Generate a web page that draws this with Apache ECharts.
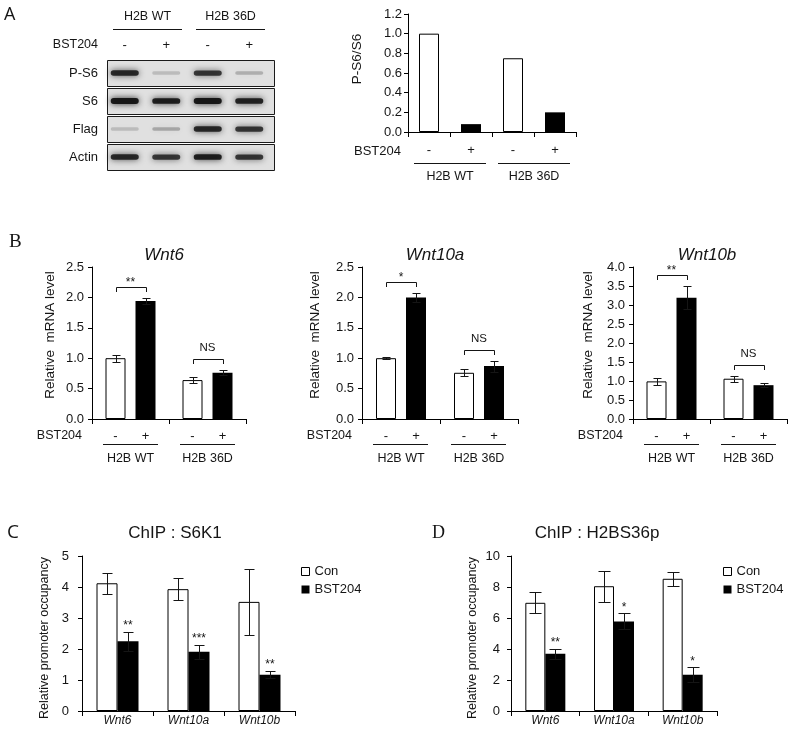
<!DOCTYPE html>
<html><head><meta charset="utf-8">
<script src="https://cdn.jsdelivr.net/npm/echarts@6/dist/echarts.min.js"></script>
<style>html,body{margin:0;padding:0;background:#fff}#c{width:789px;height:733px}</style>
</head><body><div id="c"></div>
<script>
// ---------------- DATA ----------------
const blotLanes = ['WT -', 'WT +', '36D -', '36D +'];
const blotRows = ['P-S6', 'S6', 'Flag', 'Actin'];
const bandPS6 = [0.85, 0.10, 0.75, 0.16];
const bandS6 = [0.95, 0.90, 0.95, 0.88];
const bandFlag = [0.10, 0.20, 0.85, 0.75];
const bandActin = [0.85, 0.75, 0.90, 0.75];
const blotGroups = ['H2B WT', 'H2B 36D'];
const treatSigns = ['-', '+', '-', '+'];
const ratioCats = ['WT -', 'WT +', '36D -', '36D +'];
const ratioValues = [1.0, 0.08, 0.75, 0.20];

const groupCats = ['H2B WT', 'H2B 36D'];
const wnt6Ctrl = [1.00, 0.64], wnt6CtrlErr = [0.06, 0.055];
const wnt6Bst = [1.94, 0.76], wnt6BstErr = [0.05, 0.04];
const wnt6Sig = ['**', 'NS'];
const wnt10aCtrl = [1.00, 0.76], wnt10aCtrlErr = [0.012, 0.06];
const wnt10aBst = [2.00, 0.87], wnt10aBstErr = [0.07, 0.09];
const wnt10aSig = ['*', 'NS'];
const wnt10bCtrl = [0.99, 1.06], wnt10bCtrlErr = [0.09, 0.08];
const wnt10bBst = [3.19, 0.89], wnt10bBstErr = [0.30, 0.05];
const wnt10bSig = ['**', 'NS'];

const geneCats = ['Wnt6', 'Wnt10a', 'Wnt10b'];
const s6k1Con = [4.12, 3.93, 3.52], s6k1ConErr = [0.34, 0.36, 1.07];
const s6k1Bst = [2.25, 1.91, 1.17], s6k1BstErr = [0.30, 0.22, 0.12];
const s6k1Sig = ['**', '***', '**'];
const h2bCon = [6.98, 8.05, 8.53], h2bConErr = [0.68, 0.99, 0.45];
const h2bBst = [3.69, 5.78, 2.34], h2bBstErr = [0.34, 0.52, 0.48];
const h2bSig = ['**', '*', '*'];

// ---------------- HELPERS ----------------
const FONT = '"Liberation Sans", Arial, sans-serif';
const SERIF = '"Liberation Serif", "Times New Roman", serif';
const INK = '#151515';
const R = v => Math.round(v) + 0.5;

function T(x, y, text, size, opt) {
  opt = opt || {};
  return {type: 'text', x: x, y: y, silent: true, rotation: opt.rot || 0,
    style: {text: text, fill: INK, fontSize: size, fontFamily: opt.family || FONT,
      fontStyle: opt.italic ? 'italic' : 'normal', fontWeight: 'normal',
      align: opt.align || 'center', verticalAlign: 'middle'}};
}
function L(x1, y1, x2, y2) {
  return {type: 'line', silent: true, shape: {x1: x1, y1: y1, x2: x2, y2: y2},
    style: {stroke: INK, lineWidth: 1}};
}

const axisLine = {show: true, lineStyle: {color: '#000', width: 1}};
const tick = len => ({show: true, length: len, lineStyle: {color: '#000', width: 1}});

const grids = [
  {left: 104, top: 59, width: 166, height: 112},   // 0 blot
  {left: 408, top: 14, width: 168, height: 118},   // 1 P-S6/S6
  {left: 92, top: 267, width: 154, height: 152},   // 2 Wnt6
  {left: 362, top: 267, width: 156, height: 152},  // 3 Wnt10a
  {left: 633, top: 267, width: 154, height: 152},  // 4 Wnt10b
  {left: 82, top: 556, width: 213, height: 155},   // 5 ChIP S6K1
  {left: 511, top: 556, width: 206, height: 155}   // 6 ChIP H2BS36p
];

function yVal(gi, max, interval, dec, margin) {
  return {gridIndex: gi, type: 'value', min: 0, max: max, interval: interval,
    axisLine: axisLine, axisTick: tick(4), splitLine: {show: false},
    axisLabel: {margin: margin, fontSize: 13, color: INK, fontFamily: FONT,
      formatter: v => dec ? v.toFixed(dec) : String(v)}};
}

const xAxes = [
  {gridIndex: 0, type: 'category', data: blotLanes, show: false},
  {gridIndex: 1, type: 'category', data: ratioCats, axisLine: axisLine, axisTick: tick(5),
    axisLabel: {margin: 12, fontSize: 13, color: INK, fontFamily: FONT,
      formatter: (v, i) => treatSigns[i]}},
  {gridIndex: 2, type: 'category', data: groupCats, axisLine: axisLine, axisTick: tick(5), axisLabel: {show: false}},
  {gridIndex: 3, type: 'category', data: groupCats, axisLine: axisLine, axisTick: tick(5), axisLabel: {show: false}},
  {gridIndex: 4, type: 'category', data: groupCats, axisLine: axisLine, axisTick: tick(5), axisLabel: {show: false}},
  {gridIndex: 5, type: 'category', data: geneCats, axisLine: axisLine, axisTick: tick(5),
    axisLabel: {margin: 4, fontSize: 12, fontStyle: 'italic', color: INK, fontFamily: FONT}},
  {gridIndex: 6, type: 'category', data: geneCats, axisLine: axisLine, axisTick: tick(5),
    axisLabel: {margin: 4, fontSize: 12, fontStyle: 'italic', color: INK, fontFamily: FONT}}
];
const yAxes = [
  {gridIndex: 0, type: 'category', data: blotRows, inverse: true, axisLine: {show: false},
    axisTick: {show: false}, axisLabel: {margin: 6, fontSize: 13, color: INK, fontFamily: FONT}},
  yVal(1, 1.2, 0.2, 1, 6),
  yVal(2, 2.5, 0.5, 1, 8),
  yVal(3, 2.5, 0.5, 1, 8),
  yVal(4, 4.0, 0.5, 1, 8),
  yVal(5, 5, 1, 0, 13),
  yVal(6, 10, 2, 0, 11)
];

const series = [];

// ---- western blot ----
series.push({type: 'custom', xAxisIndex: 0, yAxisIndex: 0, silent: true, z: 1,
  data: blotRows.map((r, i) => [0, i]),
  renderItem: (p, api) => {
    const r = api.value(1);
    const a = api.coord([0, r]), b = api.coord([3, r]), sz = api.size([1, 1]);
    const x1 = R(a[0] - sz[0] / 2 + 3), x2 = R(b[0] + sz[0] / 2 + 4);
    const y1 = R(a[1] - 13), y2 = R(a[1] + 13);
    return {type: 'rect', shape: {x: x1, y: y1, width: x2 - x1, height: y2 - y1},
      style: {fill: '#e0e0e0', stroke: '#1a1a1a', lineWidth: 1}};
  }});
const bandRows = [bandPS6, bandS6, bandFlag, bandActin];
const bandData = [];
bandRows.forEach((row, r) => row.forEach((v, l) => bandData.push([l, r, v])));
series.push({type: 'custom', xAxisIndex: 0, yAxisIndex: 0, silent: true, z: 2, data: bandData,
  renderItem: (p, api) => {
    const l = api.value(0), r = api.value(1), v = api.value(2);
    const c = api.coord([l, r]);
    const w = 28, h = 3 + v * 3;
    const col = 'rgba(15,15,15,' + (0.08 + 0.9 * v).toFixed(2) + ')';
    return {type: 'rect', shape: {x: c[0] - w / 2, y: c[1] - h / 2, width: w, height: h, r: h / 2},
      style: {fill: col, shadowBlur: 6, shadowColor: col}};
  }});
series.push({type: 'custom', xAxisIndex: 0, yAxisIndex: 0, silent: true, z: 3,
  data: blotGroups.map((g, i) => [i, 0]),
  renderItem: (p, api) => {
    const g = api.value(0);
    const a = api.coord([2 * g, 0]), b = api.coord([2 * g + 1, 0]), sz = api.size([1, 1]);
    const top = a[1] - sz[1] / 2, left = a[0] - sz[0] / 2;
    const lx1 = Math.round(a[0] - 12), lx2 = Math.round(b[0] + 16);
    const ch = [
      T(a[0], top - 14, treatSigns[2 * g], 13),
      T(b[0], top - 14, treatSigns[2 * g + 1], 13),
      L(lx1, R(top - 30), lx2, R(top - 30)),
      T((lx1 + lx2) / 2, top - 42, blotGroups[g], 12.5)
    ];
    if (g === 0) ch.push(T(left - 6, top - 14, 'BST204', 12.5, {align: 'right'}));
    return {type: 'group', children: ch};
  }});

// ---- generic pieces ----
function errSeries(gi, vals, errs, off, cap) {
  return {type: 'custom', xAxisIndex: gi, yAxisIndex: gi, silent: true, z: 5,
    data: vals.map((v, i) => [i, v, errs[i]]),
    renderItem: (p, api) => {
      const i = api.value(0), v = api.value(1), e = api.value(2);
      const t = api.coord([i, v + e]), b = api.coord([i, v - e]);
      const x = R(t[0] + off), yt = R(t[1]), yb = R(b[1]);
      return {type: 'group', children: [L(x, yt, x, yb), L(x - cap, yt, x + cap, yt), L(x - cap, yb, x + cap, yb)]};
    }};
}
function bracketSeries(gi, c, ce, b, be, sig, off) {
  return {type: 'custom', xAxisIndex: gi, yAxisIndex: gi, silent: true, z: 6,
    data: c.map((v, i) => [i, Math.max(v + ce[i], b[i] + be[i])]),
    renderItem: (p, api) => {
      const i = api.value(0), top = api.coord([i, api.value(1)]);
      const x1 = R(top[0] - off), x2 = R(top[0] + off);
      const yb = Math.round(top[1] - 6), yh = R(yb - 5);
      const s = sig[i];
      const ty = s.charAt(0) === '*' ? yh - 5 : yh - 12;
      return {type: 'group', children: [L(x1, yb, x1, yh), L(x1, yh, x2, yh), L(x2, yh, x2, yb),
        T(top[0], ty, s, s.charAt(0) === '*' ? 12 : 11.5)]};
    }};
}
function groupAnnot(gi, off) {
  return {type: 'custom', xAxisIndex: gi, yAxisIndex: gi, silent: true, z: 6,
    data: groupCats.map((g, i) => [i, 0]),
    renderItem: (p, api) => {
      const i = api.value(0), c = api.coord([i, 0]), w = api.size([1, 0])[0];
      const ch = [
        T(c[0] - off, c[1] + 17, treatSigns[2 * i], 13),
        T(c[0] + off, c[1] + 17, treatSigns[2 * i + 1], 13),
        L(Math.round(c[0] - 28), R(c[1] + 25), Math.round(c[0] + 27), R(c[1] + 25)),
        T(c[0], c[1] + 40, groupCats[i], 12.5)
      ];
      if (i === 0) ch.push(T(c[0] - w / 2 - 10, c[1] + 17, 'BST204', 12.5, {align: 'right'}));
      return {type: 'group', children: ch};
    }};
}

// ---- P-S6/S6 ratio ----
series.push({type: 'bar', name: 'ratio', xAxisIndex: 1, yAxisIndex: 1, barWidth: 20, silent: true,
  data: ratioValues.map((v, i) => ({value: v,
    itemStyle: i % 2 ? {color: '#000'} : {color: '#fff', borderColor: '#000', borderWidth: 1}}))});
series.push({type: 'custom', xAxisIndex: 1, yAxisIndex: 1, silent: true, z: 6,
  data: blotGroups.map((g, i) => [i, 0]),
  renderItem: (p, api) => {
    const g = api.value(0);
    const a = api.coord([2 * g, 0]), b = api.coord([2 * g + 1, 0]), w = api.size([1, 0])[0];
    const lx1 = Math.round(a[0] - 15), lx2 = Math.round(b[0] + 15);
    const ch = [L(lx1, R(a[1] + 31), lx2, R(a[1] + 31)), T((lx1 + lx2) / 2, a[1] + 45, blotGroups[g], 12.5)];
    if (g === 0) ch.push(T(a[0] - w / 2 - 7, a[1] + 19, 'BST204', 13, {align: 'right'}));
    return {type: 'group', children: ch};
  }});

// ---- mRNA charts ----
function mrnaChart(gi, c, ce, b, be, sig) {
  series.push({type: 'bar', name: 'ctrl' + gi, xAxisIndex: gi, yAxisIndex: gi, data: c, barWidth: 20, barGap: '50%', silent: true,
    itemStyle: {color: '#fff', borderColor: '#000', borderWidth: 1}});
  series.push({type: 'bar', name: 'bst' + gi, xAxisIndex: gi, yAxisIndex: gi, data: b, barWidth: 20, barGap: '50%', silent: true,
    itemStyle: {color: '#000'}});
  series.push(errSeries(gi, c, ce, -15, 4));
  series.push(errSeries(gi, b, be, 15, 4));
  series.push(bracketSeries(gi, c, ce, b, be, sig, 15));
  series.push(groupAnnot(gi, 15));
}
mrnaChart(2, wnt6Ctrl, wnt6CtrlErr, wnt6Bst, wnt6BstErr, wnt6Sig);
mrnaChart(3, wnt10aCtrl, wnt10aCtrlErr, wnt10aBst, wnt10aBstErr, wnt10aSig);
mrnaChart(4, wnt10bCtrl, wnt10bCtrlErr, wnt10bBst, wnt10bBstErr, wnt10bSig);

// ---- ChIP charts ----
function chipChart(gi, c, ce, b, be, sig, bw, cap) {
  series.push({type: 'bar', name: 'Con', xAxisIndex: gi, yAxisIndex: gi, data: c, barWidth: bw, barGap: '0%', silent: true,
    itemStyle: {color: '#fff', borderColor: '#000', borderWidth: 1}});
  series.push({type: 'bar', name: 'BST204', xAxisIndex: gi, yAxisIndex: gi, data: b, barWidth: bw, barGap: '0%', silent: true,
    itemStyle: {color: '#000'}});
  series.push(errSeries(gi, c, ce, -bw / 2, cap));
  series.push(errSeries(gi, b, be, bw / 2, cap));
  series.push({type: 'custom', xAxisIndex: gi, yAxisIndex: gi, silent: true, z: 6,
    data: b.map((v, i) => [i, v + be[i]]),
    renderItem: (p, api) => {
      const i = api.value(0), t = api.coord([i, api.value(1)]);
      return T(t[0] + bw / 2, t[1] - 6, sig[i], 12);
    }});
}
chipChart(5, s6k1Con, s6k1ConErr, s6k1Bst, s6k1BstErr, s6k1Sig, 21, 5);
chipChart(6, h2bCon, h2bConErr, h2bBst, h2bBstErr, h2bSig, 20, 6);

function legendAt(left) {
  return {left: left, top: 565, padding: 0, orient: 'vertical', icon: 'rect', itemWidth: 8, itemHeight: 8, itemGap: 5,
    selectedMode: false, textStyle: {fontSize: 13, color: INK, fontFamily: FONT},
    data: [{name: 'Con', itemStyle: {color: '#fff', borderColor: '#000', borderWidth: 1}},
           {name: 'BST204', itemStyle: {color: '#000', borderWidth: 0}}]};
}

// ---- static texts ----
const rot = Math.PI / 2;
const texts = [
  T(4, 15, 'A', 18, {align: 'left', family: '"Open Sans", sans-serif'}),
  T(9, 242, 'B', 19, {align: 'left', family: SERIF}),
  T(7, 533, 'C', 19, {align: 'left', family: '"Open Sans", sans-serif'}),
  T(432, 533, 'D', 18, {align: 'left', family: SERIF}),
  T(164, 255, 'Wnt6', 17, {italic: true}),
  T(435, 255, 'Wnt10a', 17, {italic: true}),
  T(707, 255, 'Wnt10b', 17, {italic: true}),
  T(175, 533, 'ChIP : S6K1', 17),
  T(597, 533, 'ChIP : H2BS36p', 17),
  T(357, 59, 'P-S6/S6', 13.5, {rot: rot}),
  T(50, 335, 'Relative  mRNA level', 13.5, {rot: rot}),
  T(315, 335, 'Relative  mRNA level', 13.5, {rot: rot}),
  T(588, 335, 'Relative  mRNA level', 13.5, {rot: rot}),
  T(45, 638, 'Relative promoter occupancy', 12.5, {rot: rot}),
  T(473, 638, 'Relative promoter occupancy', 12.5, {rot: rot})
];

const chart = echarts.init(document.getElementById('c'), null, {renderer: 'canvas'});
chart.setOption({
  animation: false,
  backgroundColor: '#fff',
  textStyle: {fontFamily: FONT},
  grid: grids,
  xAxis: xAxes,
  yAxis: yAxes,
  legend: [legendAt(301), legendAt(723)],
  graphic: {elements: texts},
  series: series
});
</script>
</body></html>
